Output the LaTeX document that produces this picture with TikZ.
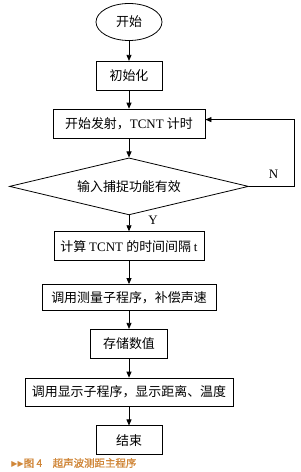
\documentclass[tikz,border=0pt]{standalone}
\usepackage{fontspec}
\setmainfont{Liberation Serif}
\newfontfamily\cjk{Noto Sans CJK SC}
\newfontfamily\cjkcap[FakeBold=1.2]{Noto Sans CJK SC}
\newfontfamily\symfont{DejaVu Sans}
\usetikzlibrary{arrows.meta,positioning,calc,shapes.geometric}
\definecolor{captionorange}{HTML}{D0873A}

\begin{document}
\begin{tikzpicture}[
    x=1bp, y=1bp,
    font=\fontsize{13}{15}\selectfont,
    line width=0.8pt,
    box/.style={draw, align=center, minimum height=29bp, inner sep=2bp},
    term/.style={ellipse, draw, minimum width=66bp, minimum height=37bp,
                 inner sep=0pt},
    cond/.style={diamond, draw, aspect=4.2, minimum width=239bp,
                 minimum height=57bp, inner sep=1bp},
    flow/.style={-{Triangle[length=6bp,width=5bp]}},
    lbl/.style={inner sep=1bp},
  ]
  \useasboundingbox (0,0) rectangle (300,-472);
  \node[term] (start) at (129,-22) {\cjk 开始};
  \node[box, minimum width=66bp, below=20bp of start] (init) {\cjk 初始化};
  \node[box, minimum width=152bp, below=18bp of init] (fire) {{\cjk 开始发射，}TCNT {\cjk 计时}};
  \node[cond, below=19bp of fire] (check) {\cjk 输入捕捉功能有效};
  \node[box, minimum width=150bp, below=16bp of check] (calc) {{\cjk 计算 }TCNT {\cjk 的时间间隔 }t};
  \node[box, minimum width=174bp, minimum height=26bp, below=23bp of calc] (comp) {\cjk 调用测量子程序，补偿声速};
  \node[box, minimum width=77bp, below=18bp of comp] (store) {\cjk 存储数值};
  \node[box, minimum width=208bp, minimum height=28bp, below=19bp of store] (disp) {\cjk 调用显示子程序，显示距离、温度};
  \node[box, minimum width=66bp, below=19bp of disp] (stop) {\cjk 结束};
  \node[font=\fontsize{10.5}{12}\selectfont, text=captionorange, anchor=west,
        inner sep=0pt] (caption) at (11,-463)
       {{\symfont\fontsize{8}{9}\selectfont ▶▶}{\cjkcap 图 4\quad 超声波测距主程序}};

  % main flow
  \draw[flow] (start) -- (init);
  \draw[flow] (init) -- (fire);
  \draw[flow] (fire) -- (check);
  \draw[flow] (check) -- node[lbl, right=18bp, pos=0.3] {Y} (calc);
  \draw[flow] (calc) -- (comp);
  \draw[flow] (comp) -- (store);
  \draw[flow] (store) -- (disp);
  \draw[flow] (disp) -- (stop);

  % loop back when no capture
  \draw[flow] (check.east) -- node[lbl, above=6bp, pos=0.55] {N} ++(45,0)
        |- ([yshift=4bp]fire.east);
\end{tikzpicture}
\end{document}
